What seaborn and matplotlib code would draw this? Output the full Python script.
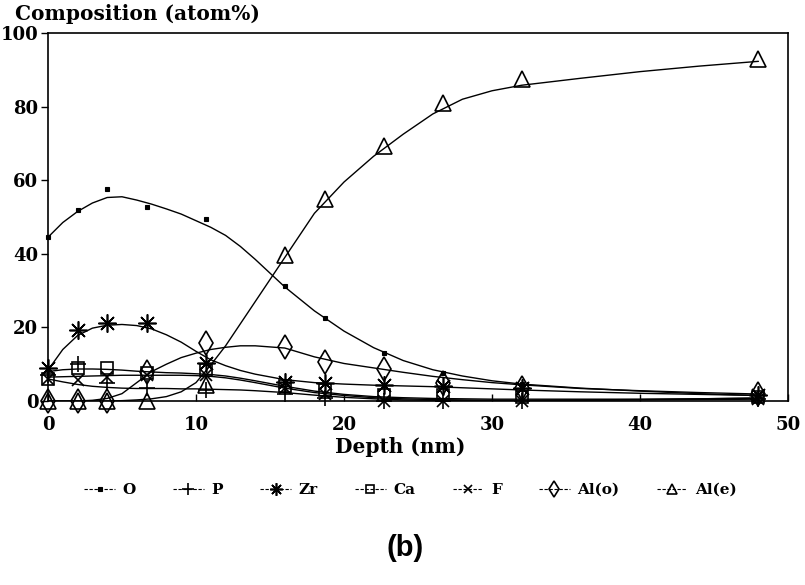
import matplotlib
matplotlib.use('Agg')
import matplotlib.pyplot as plt
from matplotlib.lines import Line2D
import seaborn as sns
import pandas as pd

# measured depths (nm) and composition (atom%) per element
depth = [0, 2, 4, 6.7, 10.7, 16, 18.7, 22.7, 26.7, 32, 48]
o_pts = [44.5, 52, 57.7, 52.6, 49.5, 31.2, 22.5, 13, 7.5, 4.5, 1.5]
p_pts = [7, 10, 5, 3.5, 3, 2, 0.8, 0, 0, 0, 0.5]
zr_pts = [9, 19.3, 21.1, 21.1, 10.2, 5.3, 4.8, 4.3, 4.2, 3.5, 1.5]
ca_pts = [6, 9, 9, 7.5, 8.5, 4, 3, 1.5, 1.5, 1, 1]
f_pts = [6, 5.7, 6.5, 7, 7, 3.5, 2, 0, 0, 0, 0.5]
alo_pts = [0, 0, 0, 7.8, 15.7, 14.6, 10.7, 8.6, 5, 3.5, 2]
ale_pts = [0, 0, 0, 0, 4.3, 39.7, 55, 69.3, 81, 87.4, 92.8]

# smoothed fit curves
fit_depth = [0, 1, 2, 3, 4, 5, 6, 7, 8, 9, 10, 11, 12, 13, 14, 16, 18, 20, 22, 24, 26, 28, 30, 32, 36, 40, 44, 48]
o_fit = [44.5, 48.5, 51.5, 53.8, 55.3, 55.5, 54.6, 53.5, 52.2, 50.8, 49, 47.2, 45, 42, 38.5, 31, 24.5, 19, 14.5, 11, 8.5, 6.8, 5.5, 4.6, 3.5, 2.7, 2, 1.5]
p_fit = [6, 5.2, 4.5, 4, 3.7, 3.5, 3.4, 3.4, 3.4, 3.3, 3.3, 3.2, 3.1, 3, 2.8, 2.3, 1.6, 1, 0.6, 0.3, 0.2, 0.1, 0.1, 0.1, 0.2, 0.3, 0.4, 0.5]
zr_fit = [8.4, 14, 17.8, 19.8, 20.6, 20.8, 20.5, 19.6, 18, 16, 13.5, 11.2, 9.6, 8.3, 7.3, 5.8, 5, 4.6, 4.3, 4.1, 3.9, 3.6, 3.3, 3.0, 2.5, 2.1, 1.8, 1.5]
ca_fit = [8, 8.5, 8.7, 8.7, 8.6, 8.4, 8.1, 7.9, 7.7, 7.6, 7.4, 7.2, 6.8, 6.2, 5.5, 4, 2.7, 1.8, 1.2, 0.9, 0.7, 0.6, 0.5, 0.5, 0.5, 0.5, 0.6, 0.8]
f_fit = [6.5, 6.6, 6.7, 6.8, 6.9, 7, 7, 7, 7, 7, 6.9, 6.7, 6.3, 5.7, 5, 3.5, 2.3, 1.5, 0.9, 0.6, 0.4, 0.3, 0.2, 0.2, 0.3, 0.4, 0.6, 0.8]
alo_fit = [0, 0, 0, 0.2, 0.7, 2, 5, 8, 10, 11.8, 13, 14, 14.6, 15, 15, 14.4, 12, 10.2, 9, 7.8, 6.7, 5.8, 5, 4.4, 3.4, 2.8, 2.3, 1.9]
ale_fit = [0, 0, 0, 0, 0, 0.1, 0.3, 0.6, 1.2, 2.5, 5, 9.8, 15, 21, 27, 39, 51, 59.5, 66.5, 72.5, 78, 82, 84.3, 85.8, 87.7, 89.5, 91, 92.3]

labels = ['O', 'P', 'Zr', 'Ca', 'F', 'Al(o)', 'Al(e)']
points = [o_pts, p_pts, zr_pts, ca_pts, f_pts, alo_pts, ale_pts]
fits = [o_fit, p_fit, zr_fit, ca_fit, f_fit, alo_fit, ale_fit]

styles = {
    'O': dict(marker='s', ms=3.5, mfc='black', mew=0.8),
    'P': dict(marker='+', ms=12, mew=1.2),
    'Zr': dict(marker=(8, 2, 0), ms=13, mew=1.2),
    'Ca': dict(marker='s', ms=8, mfc='none', mew=1.2),
    'F': dict(marker='x', ms=9, mew=1.2),
    'Al(o)': dict(marker='d', ms=12, mfc='none', mew=1.2),
    'Al(e)': dict(marker='^', ms=11, mfc='none', mew=1.2),
}

sns.set_theme(style="ticks")
plt.rcParams['font.family'] = ['DejaVu Serif']
plt.rcParams['font.weight'] = 'bold'
plt.rcParams['text.color'] = 'black'

fig = plt.figure(figsize=(8.05, 5.85), dpi=100)
ax = fig.add_axes([0.0596, 0.3145, 0.9193, 0.6291])

for name, pts, fit in zip(labels, points, fits):
    fit_df = pd.DataFrame({'depth': fit_depth, 'val': fit})
    pts_df = pd.DataFrame({'depth': depth, 'val': pts})
    sns.lineplot(data=fit_df, x='depth', y='val', color='black', linewidth=1.0, ax=ax)
    sns.lineplot(data=pts_df, x='depth', y='val', color='black', linestyle='none',
                 mec='black', clip_on=False, zorder=3, ax=ax, **styles[name])

ax.set_xlim(0, 50)
ax.set_ylim(0, 100)
ax.set_xticks(range(0, 51, 10))
ax.set_yticks(range(0, 101, 20))
ax.set_xlabel('')
ax.set_ylabel('')
for s in ax.spines.values():
    s.set_visible(True)
    s.set_color('black')
    s.set_linewidth(1.2)
ax.tick_params(axis='y', direction='out', length=5, width=1, labelsize=13, pad=2, colors='black')
ax.tick_params(axis='x', direction='in', length=5, width=1, labelsize=13, pad=11, colors='black')

fig.text(0.0186, 1 - 14 / 585, 'Composition (atom%)', ha='left', va='center', fontsize=14.5, fontweight='bold')
fig.text(0.497, 1 - 447 / 585, 'Depth (nm)', ha='center', va='center', fontsize=14.5, fontweight='bold')

handles = []
for name in labels:
    st = dict(styles[name])
    st['ms'] = st['ms'] * 0.7
    handles.append(Line2D([], [], color='black', lw=0.8, ls=(0, (3, 1.5)), mec='black', **st))
fig.legend(handles, labels, loc='center', bbox_to_anchor=(0.51, 1 - 490 / 585), ncol=7,
           frameon=False, fontsize=11, handlelength=2.0, columnspacing=2.45, handletextpad=0.5)

fig.text(0.503, 1 - 548 / 585, '(b)', ha='center', va='center', fontsize=21,
         fontweight='bold', family=['Liberation Sans', 'DejaVu Sans'])

fig.savefig('out.png', dpi=100)
plt.close(fig)
